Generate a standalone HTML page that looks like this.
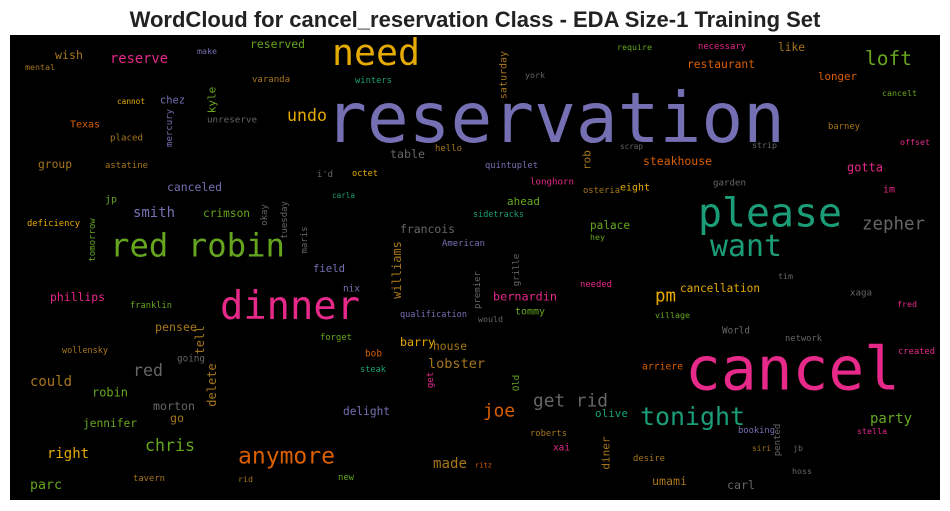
<!DOCTYPE html>
<html><head><meta charset="utf-8">
<style>
html,body{margin:0;padding:0;background:#fff;width:950px;height:511px;overflow:hidden}
svg{display:block}
</style></head>
<body>
<svg id="wc" width="950" height="511" xmlns="http://www.w3.org/2000/svg">
<text x="475" y="27" text-anchor="middle" font-family="'Liberation Sans', sans-serif" font-weight="bold" font-size="22" fill="#222">WordCloud for cancel_reservation Class - EDA Size-1 Training Set</text>
<rect x="10" y="35" width="930" height="465" fill="#000"/>
<g id="words"></g>
</svg>
<script>
const palette = ["#1b9e77","#d95f02","#7570b3","#e7298a","#66a61e","#e6ab02","#a6761d","#666666"];
// [word, x0, x1, centerY, colorIdx] horizontal words
const horizWords = [
["reservation",325,785,117,2],["cancel",685,900,368,3],["dinner",220,360,305,3],
["red robin",110,285,245,4],["please",698,842,212,0],["want",710,782,245,0],
["need",332,420,52,5],["tonight",640,745,416,0],["anymore",238,335,455,1],
["loft",865,912,58,4],["zepher",862,925,223,7],["get rid",533,608,400,7],
["joe",483,515,410,1],["chris",145,195,445,4],["pm",655,676,295,5],
["undo",287,327,115,5],["smith",133,175,212,2],["red",133,163,370,7],
["lobster",428,485,363,6],["right",47,89,453,5],["could",30,72,381,6],
["reserve",110,168,58,3],["wish",55,83,55,6],["reserved",250,305,44,4],
["make",197,217,51,2],["mental",25,55,67,6],["varanda",252,290,79,6],
["cannot",117,145,101,5],["chez",160,185,100,2],["Texas",70,100,124,1],
["placed",110,143,137,6],["unreserve",207,257,119,7],["group",38,72,164,6],
["astatine",105,148,165,6],["table",390,425,154,7],["hello",435,462,148,6],
["canceled",167,222,187,2],["i'd",317,333,174,7],["octet",352,378,173,5],
["carla",332,355,195,0],["jp",105,117,199,4],["crimson",203,250,213,4],
["francois",400,455,229,7],["deficiency",27,80,223,5],["sidetracks",473,524,214,0],
["ahead",507,540,201,4],["American",442,485,243,2],["field",313,345,268,2],
["york",525,545,75,7],["winters",355,392,80,0],["scrap",620,643,146,7],
["quintuplet",485,538,165,2],["longhorn",530,574,181,3],["osteria",583,620,190,6],
["eight",620,650,187,5],["steakhouse",643,712,161,1],["restaurant",687,755,64,1],
["require",617,652,47,4],["necessary",698,746,46,3],["like",778,805,47,6],
["longer",818,857,76,1],["cancelt",882,917,93,4],["barney",828,860,126,6],
["offset",900,930,142,3],["strip",752,777,145,7],["gotta",847,883,167,3],
["im",883,895,189,3],["garden",713,746,182,7],["palace",590,630,225,4],
["hey",590,605,237,4],["bernardin",493,557,296,3],["needed",580,612,284,3],
["tim",778,793,276,7],["xaga",850,872,292,7],["fred",897,917,304,3],
["cancellation",680,760,288,5],["village",655,690,315,4],["network",785,822,338,7],
["World",722,750,330,7],["created",898,935,351,3],["phillips",50,105,297,3],
["franklin",130,172,305,4],["nix",343,360,288,2],["qualification",400,467,314,2],
["would",478,503,319,7],["tommy",515,545,311,4],["pensee",155,197,327,6],
["wollensky",62,108,350,6],["forget",320,352,337,4],["barry",400,435,342,5],
["house",433,467,346,6],["going",177,205,358,7],["bob",365,382,353,1],
["steak",360,386,369,0],["arriere",642,683,366,1],["robin",92,128,392,4],
["morton",153,195,406,7],["delight",343,390,411,2],["olive",595,628,413,0],
["party",870,912,418,4],["jennifer",83,137,423,4],["go",170,184,418,6],
["booking",738,775,430,2],["stella",857,887,431,3],["roberts",530,567,433,6],
["siri",752,771,448,6],["jb",793,803,448,7],["xai",553,570,447,3],
["made",433,467,463,6],["ritz",475,492,465,1],["desire",633,665,458,6],
["umami",652,687,481,6],["carl",727,755,485,7],["hoss",792,812,471,7],
["parc",30,62,484,4],["tavern",133,165,478,6],["rid",238,253,479,6],["new",338,354,477,4]
];
// [word, centerX, centerY, fontSize, colorIdx] vertical words
const vertWords = [
["kyle",212,100,11,4],["mercury",170,128,9,2],["okay",265,215,9,7],
["tuesday",285,220,9,7],["maris",305,240,9,7],["tomorrow",93,240,9,4],
["williams",397,270,12,6],["saturday",504,75,10,6],["rob",587,160,11,6],
["grille",517,270,9,7],["premier",478,290,9,7],["tell",200,340,12,6],
["get",431,380,9,3],["Old",517,383,9,4],["delete",212,385,12,6],
["diner",606,453,11,6],["pented",778,440,9,7]
];
const NS = "http://www.w3.org/2000/svg";
const g = document.getElementById("words");
const FONT = "'DejaVu Sans Mono','Liberation Mono',monospace";
horizWords.forEach(w => {
  const t = document.createElementNS(NS, "text");
  const width = w[2] - w[1];
  const size = width / (w[0].length * 0.602);
  t.setAttribute("x", w[1]);
  t.setAttribute("y", w[3] + size * 0.36);
  t.setAttribute("font-size", size.toFixed(2));
  t.setAttribute("font-family", FONT);
  t.setAttribute("fill", palette[w[4]]);
  t.setAttribute("textLength", width);
  t.setAttribute("lengthAdjust", "spacingAndGlyphs");
  t.textContent = w[0];
  
  
  g.appendChild(t);
});
vertWords.forEach(w => {
  const t = document.createElementNS(NS, "text");
  t.setAttribute("x", w[1]);
  t.setAttribute("y", w[2]);
  t.setAttribute("font-size", w[3]);
  t.setAttribute("font-family", FONT);
  t.setAttribute("fill", palette[w[4]]);
  t.setAttribute("text-anchor", "middle");
  t.setAttribute("dominant-baseline", "central");
  t.setAttribute("transform", "rotate(-90 " + w[1] + " " + w[2] + ")");
  t.textContent = w[0];
  
  
  g.appendChild(t);
});
</script>
</body></html>
